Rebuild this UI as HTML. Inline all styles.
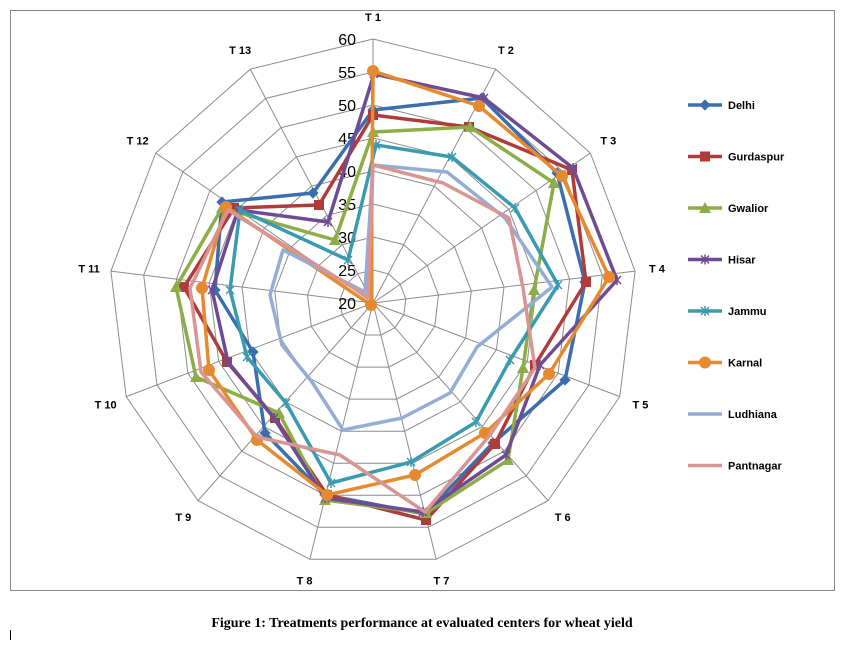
<!DOCTYPE html>
<html><head><meta charset="utf-8"><style>
body{margin:0;background:#fff;width:844px;height:640px;overflow:hidden;font-family:"Liberation Serif",serif}
</style></head><body>
<svg id="s" width="844" height="640" xmlns="http://www.w3.org/2000/svg">
<rect x="10.5" y="10.5" width="824" height="580" fill="#fff" stroke="#888"/>
<text x="422" y="627" text-anchor="middle" font-family="Liberation Serif" font-weight="bold" font-size="14">Figure 1: Treatments performance at evaluated centers for wheat yield</text>
<line x1="10.5" y1="630" x2="10.5" y2="640" stroke="#000"/>
</svg>
<script>
const s=document.getElementById('s'),NS='http://www.w3.org/2000/svg';
const cx=373,cy=303,u=33;
function el(t,a,txt){const e=document.createElementNS(NS,t);for(const k in a)e.setAttribute(k,a[k]);if(txt!=null)e.textContent=txt;s.appendChild(e);return e;}
function pt(k,r){const th=k*2*Math.PI/13;return [cx+r*Math.sin(th),cy-r*Math.cos(th)];}
for(let i=1;i<=8;i++){let p=[];for(let k=0;k<13;k++)p.push(pt(k,i*u).map(v=>v.toFixed(1)).join(','));el('polygon',{points:p.join(' '),fill:'none',stroke:'#8c8c8c','stroke-width':1});}
for(let k=0;k<13;k++){const q=pt(k,8*u);el('line',{x1:cx,y1:cy,x2:q[0],y2:q[1],stroke:'#8c8c8c','stroke-width':1});
const l=pt(k,8*u+22);el('text',{x:l[0],y:l[1]+4,'text-anchor':'middle','font-family':'Liberation Sans','font-weight':'bold','font-size':'11'},'T '+(k+1));}
for(let i=0;i<=8;i++)el('text',{x:356,y:cy-i*u+6,'text-anchor':'end','font-family':'Liberation Sans','font-size':'16'},20+i*5);
const S=[
['Delhi','#3b6eaf','d',[[373,110],[482,98],[557,173],[585,282],[565,380],[493,443],[425,514],[325,495],[265,433],[253,352],[215,290],[222,202],[313,193]]],
['Gurdaspur','#ae3c3a','s',[[373,115],[469,127],[572,170],[586,282],[535,365],[495,444],[426,520],[327,495],[275,418],[227,362],[184,287],[234,208],[319,205]]],
['Gwalior','#8cad47','t',[[373,132],[470,127],[554,183],[534,290],[523,368],[508,460],[426,513],[325,500],[279,413],[196,377],[176,287],[222,208],[335,240]]],
['Hisar','#6e4c94','x',[[374,74],[484,98],[573,168],[617,280],[540,365],[506,455],[423,512],[325,498],[274,418],[228,362],[212,290],[238,210],[328,222]]],
['Jammu','#3a9bb0','x',[[376,145],[452,157],[515,208],[558,285],[510,360],[476,422],[411,462],[331,483],[286,403],[247,357],[230,290],[240,210],[348,260]]],
['Karnal','#e58a2f','c',[[373,71],[479,106],[562,176],[609,277],[549,374],[485,433],[415,475],[327,495],[257,440],[209,370],[202,288],[226,207],[371,305]]],
['Ludhiana','#93add6','-',[[373,165],[447,172],[505,218],[552,287],[477,347],[450,393],[402,418],[343,430],[312,382],[282,345],[270,295],[283,250],[365,292]]],
['Pantnagar','#d89593','-',[[373,165],[443,183],[509,218],[523,288],[535,368],[490,435],[425,512],[340,455],[257,437],[201,372],[190,288],[228,210],[368,297]]]];
function mk(t,x,y,c){if(t=='d')el('rect',{x:x-4,y:y-4,width:8,height:8,fill:c,transform:`rotate(45 ${x} ${y})`});
else if(t=='s')el('rect',{x:x-5,y:y-5,width:10,height:10,fill:c});
else if(t=='t')el('polygon',{points:`${x},${y-6} ${x+6},${y+5} ${x-6},${y+5}`,fill:c});
else if(t=='c')el('circle',{cx:x,cy:y,r:6,fill:c});
else if(t=='x'){el('path',{d:`M${x-4} ${y-4}L${x+4} ${y+4}M${x-4} ${y+4}L${x+4} ${y-4}M${x} ${y-5}V${y+5}`,stroke:c,'stroke-width':1.5});}}
S.forEach((d,i)=>{el('polygon',{points:d[3].map(p=>p.join(',')).join(' '),fill:'none',stroke:d[1],'stroke-width':3.5,'stroke-linejoin':'round'});
d[3].forEach(p=>mk(d[2],p[0],p[1],d[1]));
const y=105+i*51.5;el('line',{x1:688,y1:y,x2:722,y2:y,stroke:d[1],'stroke-width':3.5});mk(d[2],705,y,d[1]);
el('text',{x:728,y:y+4,'font-family':'Liberation Sans','font-weight':'bold','font-size':'11'},d[0]);});
</script>
</body></html>
